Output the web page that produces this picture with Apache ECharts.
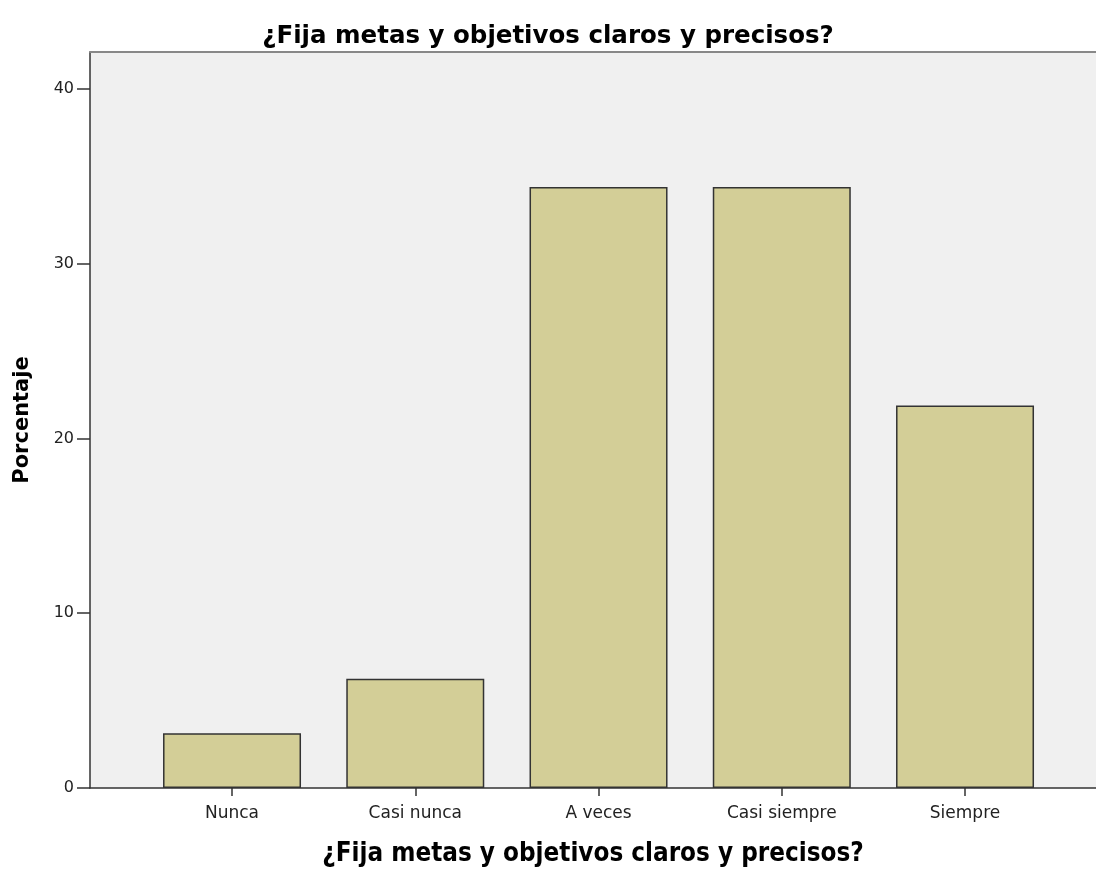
<!DOCTYPE html>
<html>
<head>
<meta charset="utf-8">
<script src="https://cdn.jsdelivr.net/npm/echarts@6/dist/echarts.min.js"></script>
<style>html,body{margin:0;padding:0;background:#fff}#c{width:1096px;height:873px}</style>
</head>
<body>
<div id="c"></div>
<script>
const title = '¿Fija metas y objetivos claros y precisos?';
const categories = ['Nunca', 'Casi nunca', 'A veces', 'Casi siempre', 'Siempre'];
const values = [3.125, 6.25, 34.375, 34.375, 21.875];
const yTicks = [0, 10, 20, 30, 40];
const yName = 'Porcentaje';

const chart = echarts.init(document.getElementById('c'));
const yMax = 42.1;
chart.setOption({
  animation: false,
  title: {
    text: title, left: 'center', top: 19,
    textStyle: {fontFamily: 'DejaVu Sans', fontSize: 24.5, fontWeight: 'bold', color: '#000'}
  },
  grid: [
    {left: 90, right: -2, top: 52, bottom: 85, show: true, backgroundColor: '#f0f0f0', borderWidth: 0},
    {left: 140.4, width: 916.25, top: 52, bottom: 85}
  ],
  xAxis: [
    {gridIndex: 0, type: 'value', min: 0, max: 1, axisLine: {show: true, onZero: false, lineStyle: {color: '#333', width: 1.5}},
     axisTick: {show: false}, axisLabel: {show: false}, splitLine: {show: false},
     name: title, nameLocation: 'middle', nameGap: 53,
     nameTextStyle: {fontFamily: 'DejaVu Sans Condensed', fontSize: 25.8, fontWeight: 'bold', color: '#000'}},
    {gridIndex: 0, type: 'value', position: 'top', min: 0, max: 1, axisLine: {show: true, onZero: false, lineStyle: {color: '#888', width: 2}},
     axisTick: {show: false}, axisLabel: {show: false}, splitLine: {show: false}},
    {gridIndex: 1, type: 'category', data: categories, axisLine: {show: false},
     axisTick: {show: true, alignWithLabel: true, length: 8, lineStyle: {color: '#333', width: 1.5}},
     axisLabel: {margin: 17, color: '#222', fontFamily: 'DejaVu Sans', fontSize: 17}}
  ],
  yAxis: [
    {gridIndex: 0, type: 'value', min: 0, max: yMax, interval: 10,
     axisLine: {show: true, lineStyle: {color: '#333', width: 1.5}},
     axisTick: {show: true, length: 13, lineStyle: {color: '#333', width: 1.5},
       customValues: yTicks},
     axisLabel: {margin: 16, customValues: yTicks, color: '#222', fontFamily: 'DejaVu Sans', fontSize: 16},
     splitLine: {show: false},
     name: yName, nameLocation: 'middle', nameGap: 57,
     nameTextStyle: {fontFamily: 'DejaVu Sans', fontSize: 21, fontWeight: 'bold', color: '#000'}},
    {gridIndex: 1, type: 'value', min: 0, max: yMax, show: false}
  ],
  series: [{
    type: 'bar', xAxisIndex: 2, yAxisIndex: 1, data: values, barWidth: 138,
    itemStyle: {color: '#d3ce97', borderColor: '#333', borderWidth: 1.5}
  }]
});
</script>
</body>
</html>
